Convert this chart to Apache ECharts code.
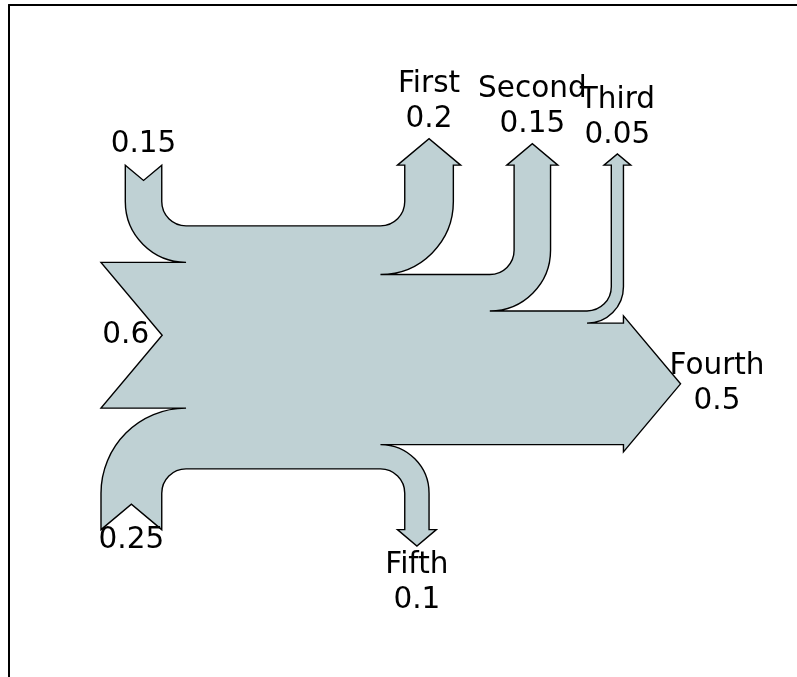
<!DOCTYPE html>
<html>
<head>
<meta charset="utf-8">
<script src="https://cdn.jsdelivr.net/npm/echarts@6/dist/echarts.min.js"></script>
<style>
html, body { margin: 0; padding: 0; background: #fff; }
#main { width: 797px; height: 677px; }
</style>
</head>
<body>
<div id="main"></div>
<script>
// flows of the diagram
var flows = [0.25, 0.15, 0.60, -0.20, -0.15, -0.05, -0.50, -0.10];
var labels = ['', '', '', 'First', 'Second', 'Third', 'Fourth', 'Fifth'];
var orientations = [-1, 1, 0, 1, 1, 1, 0, -1];

// sankey settings (defaults)
var gap = 0.25, radius = 0.1, shoulder = 0.03, offset = 0.15, margin = 0.4;
var headAngle = 100, trunklength = 1.0, pathlength = 0.25;
var pitch = Math.tan(Math.PI * (1 - headAngle / 180) / 2);
var RIGHT = 0, UP = 1, DOWN = 3;
var MOVETO = 1, LINETO = 2, CURVE4 = 4, CLOSEPOLY = 79;

// cubic approximation of a 90 deg arc
var ARC = [[1, 0], [1, 0.265114773], [0.894571235, 0.519642327],
    [0.707106781, 0.707106781], [0.519642327, 0.894571235],
    [0.265114773, 1], [0, 1]];

function arc(quadrant, cw, r, center) {
    var out = [];
    var rr = quadrant > 1 ? -r : r;
    ARC.forEach(function (v, k) {
        var p;
        if (quadrant == 0 || quadrant == 2) p = cw ? [v[0], v[1]] : [v[1], v[0]];
        else p = cw ? [-v[1], v[0]] : [-v[0], v[1]];
        out.push([k == 0 ? LINETO : CURVE4, [rr * p[0] + center[0], rr * p[1] + center[1]]]);
    });
    return out;
}

function last(path) { return path[path.length - 1][1]; }

function addInput(path, angle, flow, length) {
    var x = last(path)[0], y = last(path)[1];
    var dipdepth = (flow / 2) * pitch;
    var dip, labelLoc;
    if (angle == RIGHT) {
        x -= length;
        dip = [x + dipdepth, y + flow / 2];
        path.push([LINETO, [x, y]], [LINETO, dip], [LINETO, [x, y + flow]], [LINETO, [x + gap, y + flow]]);
        labelLoc = [dip[0] - offset, dip[1]];
    } else {
        x -= gap;
        var sign = angle == UP ? 1 : -1;
        dip = [x - flow / 2, y - sign * (length - dipdepth)];
        var quadrant = angle == DOWN ? 2 : 1;
        var c = [x + radius, y - sign * radius];
        path.push.apply(path, arc(quadrant, angle == UP, radius, c));
        path.push([LINETO, [x, y - sign * length]], [LINETO, dip], [LINETO, [x - flow, y - sign * length]]);
        path.push.apply(path, arc(quadrant, angle == DOWN, flow + radius, c));
        path.push([LINETO, [x - flow, y + sign * flow]]);
        labelLoc = [dip[0], dip[1] - sign * offset];
    }
    return labelLoc;
}

function addOutput(path, angle, flow, length) {
    var x = last(path)[0], y = last(path)[1];
    var tipheight = (shoulder - flow / 2) * pitch;
    var tip, labelLoc;
    if (angle == RIGHT) {
        x += length;
        tip = [x + tipheight, y + flow / 2];
        path.push([LINETO, [x, y]], [LINETO, [x, y + shoulder]], [LINETO, tip],
            [LINETO, [x, y - shoulder + flow]], [LINETO, [x, y + flow]], [LINETO, [x - gap, y + flow]]);
        labelLoc = [tip[0] + offset, tip[1]];
    } else {
        x += gap;
        var sign = angle == UP ? 1 : -1;
        var quadrant = angle == UP ? 3 : 0;
        tip = [x - flow / 2, y + sign * (length + tipheight)];
        var c = [x - radius, y + sign * radius];
        path.push.apply(path, arc(quadrant, angle == UP, radius, c));
        path.push([LINETO, [x, y + sign * length]], [LINETO, [x - shoulder, y + sign * length]],
            [LINETO, tip], [LINETO, [x + shoulder - flow, y + sign * length]],
            [LINETO, [x - flow, y + sign * length]]);
        path.push.apply(path, arc(quadrant, angle == DOWN, radius - flow, c));
        path.push([LINETO, [x - flow, y + sign * flow]]);
        labelLoc = [tip[0], tip[1] + sign * offset];
    }
    return labelLoc;
}

function revert(path) {
    var out = [], next = LINETO;
    for (var i = path.length - 1; i >= 0; i--) {
        out.push([next, path[i][1]]);
        next = path[i][0];
    }
    return out;
}

// build the outline
var n = flows.length;
var gain = 0, loss = 0;
flows.forEach(function (f) { if (f > 0) gain += f; else loss += f; });
var isInput = flows.map(function (f) { return f > 0; });
var angles = orientations.map(function (o, i) {
    if (o == 1) return isInput[i] ? DOWN : UP;
    if (o == 0) return RIGHT;
    return isInput[i] ? UP : DOWN;
});

// side flows get no extra length, top/bottom ones stack outwards
var lengths = angles.map(function () { return 0; });
var ul = pathlength, ur = pathlength, ll = pathlength, lr = pathlength;
for (var i = 0; i < n; i++) {
    if (angles[i] == DOWN && isInput[i]) { lengths[i] = ul; ul += flows[i]; }
    else if (angles[i] == UP && !isInput[i]) { lengths[i] = ur; ur -= flows[i]; }
}
for (var i = n - 1; i >= 0; i--) {
    if (angles[i] == UP && isInput[i]) { lengths[i] = ll; ll += flows[i]; }
    else if (angles[i] == DOWN && !isInput[i]) { lengths[i] = lr; lr -= flows[i]; }
}

var a = gap - trunklength / 2, b = trunklength / 2 - gap;
var urpath = [[MOVETO, [a, gain / 2]], [LINETO, [a / 2, gain / 2]], [CURVE4, [a / 8, gain / 2]],
    [CURVE4, [b / 8, -loss / 2]], [LINETO, [b / 2, -loss / 2]], [LINETO, [b, -loss / 2]]];
var llpath = [[LINETO, [b, loss / 2]], [LINETO, [b / 2, loss / 2]], [CURVE4, [b / 8, loss / 2]],
    [CURVE4, [a / 8, -gain / 2]], [LINETO, [a / 2, -gain / 2]], [LINETO, [a, -gain / 2]]];
var lrpath = [[LINETO, [b, loss / 2]]];
var ulpath = [[LINETO, [a, gain / 2]]];

var labelLocs = [];
for (var i = 0; i < n; i++) {
    if (angles[i] == DOWN && isInput[i]) labelLocs[i] = addInput(ulpath, DOWN, flows[i], lengths[i]);
    else if (angles[i] == UP && !isInput[i]) labelLocs[i] = addOutput(urpath, UP, flows[i], lengths[i]);
}
for (var i = n - 1; i >= 0; i--) {
    if (angles[i] == UP && isInput[i]) labelLocs[i] = addInput(llpath, UP, flows[i], lengths[i]);
    else if (angles[i] == DOWN && !isInput[i]) labelLocs[i] = addOutput(lrpath, DOWN, flows[i], lengths[i]);
}
var hasLeft = false;
for (var i = n - 1; i >= 0; i--) {
    if (angles[i] == RIGHT && isInput[i]) {
        if (!hasLeft) {
            if (last(llpath)[0] > last(ulpath)[0]) llpath.push([LINETO, [last(ulpath)[0], last(llpath)[1]]]);
            hasLeft = true;
        }
        labelLocs[i] = addInput(llpath, RIGHT, flows[i], lengths[i]);
    }
}
var hasRight = false;
for (var i = 0; i < n; i++) {
    if (angles[i] == RIGHT && !isInput[i]) {
        if (!hasRight) {
            if (last(urpath)[0] < last(lrpath)[0]) urpath.push([LINETO, [last(lrpath)[0], last(urpath)[1]]]);
            hasRight = true;
        }
        labelLocs[i] = addOutput(urpath, RIGHT, flows[i], lengths[i]);
    }
}
if (!hasLeft) { ulpath.pop(); llpath.pop(); }
if (!hasRight) { lrpath.pop(); urpath.pop(); }

var outline = urpath.concat(revert(lrpath), llpath, revert(ulpath), [[CLOSEPOLY, urpath[0][1]]]);

var labelTexts = flows.map(function (f, i) {
    var q = parseFloat(Math.abs(f).toPrecision(6)).toString();
    return labels[i] ? labels[i] + '\n' + q : q;
});

// extent of the drawing
var xs = outline.map(function (p) { return p[1][0]; }).concat(labelLocs.map(function (p) { return p[0]; }));
var ys = outline.map(function (p) { return p[1][1]; }).concat(labelLocs.map(function (p) { return p[1]; }));
var xMinE = Math.min.apply(null, xs), xMaxE = Math.max.apply(null, xs);
var yMax = Math.max.apply(null, ys) + margin;

// only the upper-left part of the axes fits in the window
var pxPerUnit = 243;
var gridLeft = 9, gridTop = 5;
var gridWidth = 797 - gridLeft, gridHeight = 677 - gridTop;
var xMin = (xMinE + xMaxE) / 2 - 400 / pxPerUnit;
var xMax = xMin + gridWidth / pxPerUnit;
var yMin = yMax - gridHeight / pxPerUnit;

var chart = echarts.init(document.getElementById('main'));

function renderItem(params, api) {
    var d = '';
    var i = 0;
    function pt(v) { var p = api.coord(v); return p[0].toFixed(2) + ' ' + p[1].toFixed(2) + ' '; }
    while (i < outline.length) {
        var code = outline[i][0];
        if (code == CURVE4) {
            d += 'C ' + pt(outline[i][1]) + pt(outline[i + 1][1]) + pt(outline[i + 2][1]);
            i += 3;
        } else if (code == CLOSEPOLY) {
            d += 'Z';
            i++;
        } else {
            d += (code == MOVETO ? 'M ' : 'L ') + pt(outline[i][1]);
            i++;
        }
    }
    var children = [{
        type: 'path',
        shape: { pathData: d },
        style: { fill: '#bfd1d4', stroke: '#000', lineWidth: 1.4, lineJoin: 'miter' }
    }];
    labelLocs.forEach(function (loc, k) {
        var p = api.coord(loc);
        children.push({
            type: 'text',
            x: p[0],
            y: p[1],
            style: {
                text: labelTexts[k],
                fill: '#000',
                fontSize: 29.5,
                fontFamily: '"DejaVu Sans"',
                align: 'center',
                verticalAlign: 'middle',
                lineHeight: 35
            }
        });
    });
    return { type: 'group', children: children };
}

var spine = { show: true, onZero: false, lineStyle: { color: '#000', width: 2 } };

var option = {
    backgroundColor: '#fff',
    animation: false,
    grid: {
        left: gridLeft,
        top: gridTop,
        width: gridWidth,
        height: gridHeight,
        show: false
    },
    xAxis: {
        type: 'value',
        position: 'top',
        min: xMin,
        max: xMax,
        axisLine: spine,
        axisTick: { show: false },
        axisLabel: { show: false },
        splitLine: { show: false }
    },
    yAxis: {
        type: 'value',
        position: 'left',
        min: yMin,
        max: yMax,
        axisLine: spine,
        axisTick: { show: false },
        axisLabel: { show: false },
        splitLine: { show: false }
    },
    series: [{
        type: 'custom',
        clip: false,
        data: [[0, 0]],
        renderItem: renderItem
    }]
};
chart.setOption(option);
</script>
</body>
</html>
